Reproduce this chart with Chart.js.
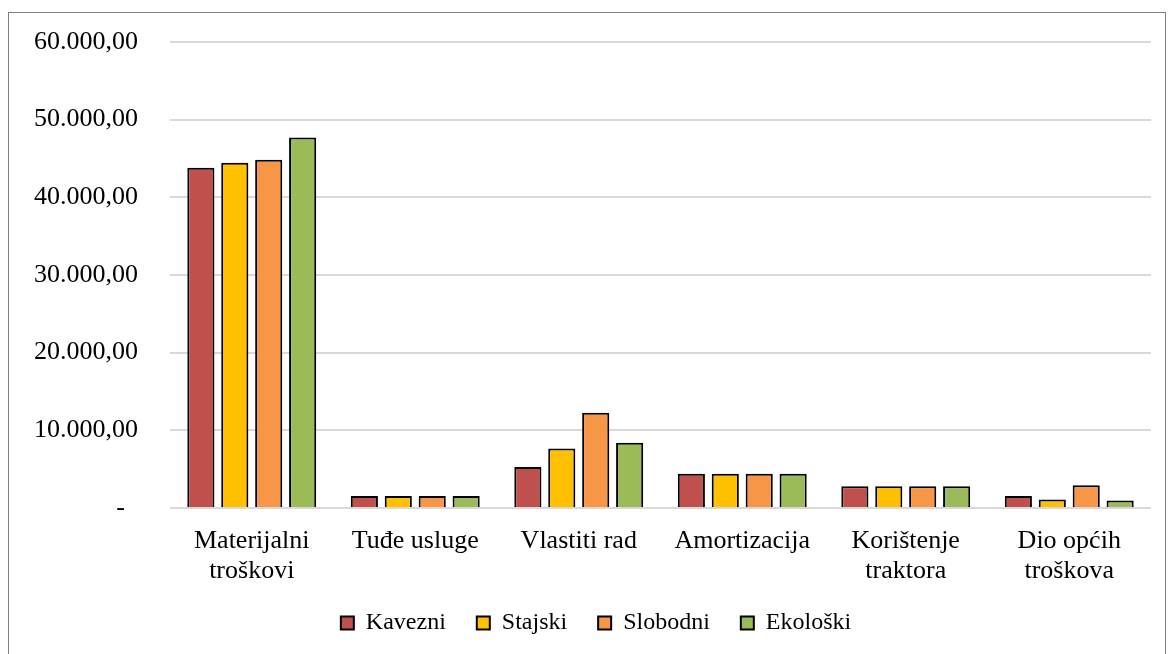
<!DOCTYPE html>
<html lang="hr">
<head>
    <meta charset="UTF-8">
    <title>Troškovi proizvodnje</title>
    <script src="https://cdn.jsdelivr.net/npm/chart.js"></script>
    <style>
        body {
            margin: 0;
            padding: 0;
            background: #ffffff;
            overflow: hidden;
        }
        #okvir {
            position: absolute;
            left: 8px;
            top: 12px;
            width: 1156px;
            height: 660px;
            border: 1px solid #7f7f7f;
        }
    </style>
</head>
<body>
    <div id="okvir">
        <canvas id="grafikon" width="1156" height="660"></canvas>
    </div>

    <script>
        // Podaci sa slike
        var kategorije = [
            ['Materijalni', 'troškovi'],
            'Tuđe usluge',
            'Vlastiti rad',
            'Amortizacija',
            ['Korištenje', 'traktora'],
            ['Dio općih', 'troškova']
        ];
        var kavezni  = [43800, 1550, 5270, 4420, 2800, 1560];
        var stajski  = [44450, 1550, 7660, 4420, 2800, 1080];
        var slobodni = [44850, 1550, 12250, 4420, 2800, 2930];
        var ekoloski = [47700, 1550, 8390, 4420, 2800, 950];
        var yMax = 60000;
        var yKorak = 10000;

        // 60.000,00 format, nula kao crtica
        function formatBroja(v) {
            if (v === 0) return '-  ';
            var cijeli = Math.round(v).toString().replace(/\B(?=(\d{3})+(?!\d))/g, '.');
            return cijeli + ',00';
        }

        var font = 'Liberation Serif, Times New Roman, serif';

        function skup(naziv, podaci, boja) {
            return {
                label: naziv,
                data: podaci,
                backgroundColor: boja,
                borderColor: '#000000',
                borderWidth: 2,
                categoryPercentage: 0.83,
                barPercentage: 0.8
            };
        }

        // legenda malo udesno, kao u Excelu
        var pomakLegende = {
            id: 'pomakLegende',
            afterLayout: function (chart) {
                if (chart.legend) {
                    chart.legend.left += 16;
                    chart.legend.right += 16;
                }
            }
        };

        var ctx = document.getElementById('grafikon').getContext('2d');
        var grafikon = new Chart(ctx, {
            type: 'bar',
            data: {
                labels: kategorije,
                datasets: [
                    skup('Kavezni', kavezni, '#C0504D'),
                    skup('Stajski', stajski, '#FFC000'),
                    skup('Slobodni', slobodni, '#F79646'),
                    skup('Ekološki', ekoloski, '#9BBB59')
                ]
            },
            plugins: [pomakLegende],
            options: {
                responsive: false,
                animation: false,
                layout: {
                    padding: { top: 29, right: 14, bottom: 28, left: 0 }
                },
                plugins: {
                    legend: {
                        position: 'bottom',
                        labels: {
                            color: '#000000',
                            boxWidth: 13,
                            boxHeight: 13,
                            padding: 31,
                            font: { family: font, size: 24 }
                        }
                    },
                    tooltip: { enabled: false }
                },
                scales: {
                    x: {
                        grid: { display: false },
                        border: { display: false },
                        ticks: {
                            color: '#000000',
                            padding: 10,
                            maxRotation: 0,
                            font: { family: font, size: 26, lineHeight: 1.15 }
                        },
                        afterFit: function (axis) {
                            axis.height = 72;
                            axis.paddingLeft = 0;
                            axis.paddingRight = 0;
                        }
                    },
                    y: {
                        min: 0,
                        max: yMax,
                        grid: { color: '#d9d9d9', lineWidth: 2, drawTicks: false },
                        border: { display: false },
                        ticks: {
                            stepSize: yKorak,
                            color: '#000000',
                            padding: 32,
                            font: { family: font, size: 26 },
                            callback: function (v) { return formatBroja(v); }
                        },
                        afterFit: function (axis) {
                            axis.width = 161;
                            axis.paddingTop = 0;
                            axis.paddingBottom = 0;
                        }
                    }
                }
            }
        });
    </script>
</body>
</html>
